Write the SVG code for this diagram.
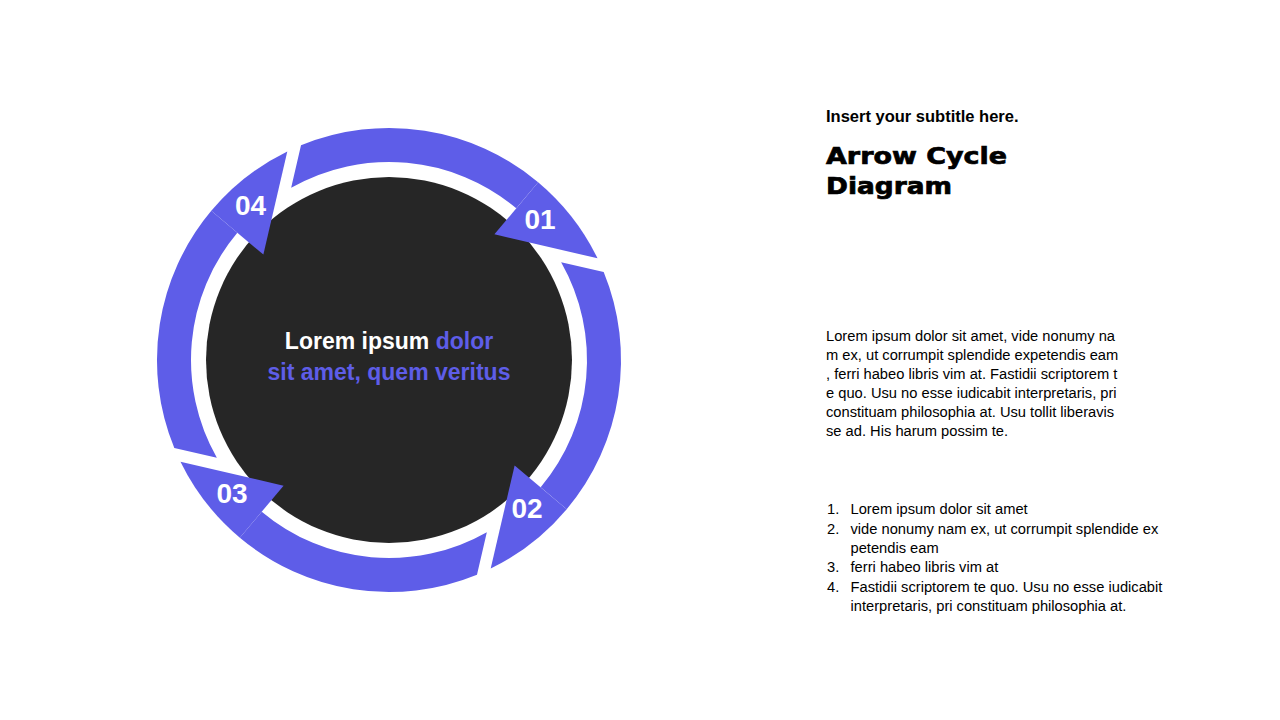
<svg xmlns="http://www.w3.org/2000/svg" xmlns:xlink="http://www.w3.org/1999/xlink" width="1280" height="720" viewBox="0 0 1280 720">
  <style>
    .ring { fill: #5E5DE8; }
    .num { font-family: "Liberation Sans", Arial, sans-serif; font-weight: bold; font-size: 28px; fill: #FFFFFF; text-anchor: middle; }
    .center { font-family: "Liberation Sans", Arial, sans-serif; font-weight: bold; font-size: 23px; text-anchor: middle; }
    .white { fill: #FFFFFF; }
    .purple { fill: #5E5DE8; }
    .sub { font-family: "Liberation Sans", Arial, sans-serif; font-weight: bold; font-size: 16.5px; fill: #000000; }
    .title { font-family: "DejaVu Sans", sans-serif; font-weight: bold; font-size: 23px; fill: #000000; stroke: #000000; stroke-width: 0.7px; }
    .body { font-family: "Liberation Sans", Arial, sans-serif; font-size: 14.7px; fill: #000000; }
  </style>
  <defs>
    <g id="arrowShape">
      <path class="ring" d="M107.9,-205.4 A232,232 0 0 1 232,0 L198,0 A198,198 0 0 0 68.98,-185.6 Z"/>
      <path class="ring" d="M164,0 L232,0 A232,232 0 0 1 211.94,94.36 Z"/>
    </g>
  </defs>
  <rect width="1280" height="720" fill="#FFFFFF"/>

  <g id="center-circle">
    <circle cx="389" cy="360" r="183" fill="#262626"/>
  </g>

  <g id="connectors"></g>

  <g id="step-01">
    <use xlink:href="#arrowShape" href="#arrowShape" transform="translate(389 360) rotate(-50)"/>
    <text class="num" x="540" y="229">01</text>
  </g>
  <g id="step-02">
    <use xlink:href="#arrowShape" href="#arrowShape" transform="translate(389 360) rotate(40)"/>
    <text class="num" x="527" y="518">02</text>
  </g>
  <g id="step-03">
    <use xlink:href="#arrowShape" href="#arrowShape" transform="translate(389 360) rotate(130)"/>
    <text class="num" x="232" y="503">03</text>
  </g>
  <g id="step-04">
    <use xlink:href="#arrowShape" href="#arrowShape" transform="translate(389 360) rotate(220)"/>
    <text class="num" x="250.5" y="215">04</text>
  </g>

  <g id="center-text">
    <text class="center" x="389" y="349"><tspan class="white">Lorem ipsum </tspan><tspan class="purple">dolor</tspan></text>
    <text class="center purple" x="389" y="380">sit amet, quem veritus</text>
  </g>

  <g id="text-panel">
    <text class="sub" x="826" y="122">Insert your subtitle here.</text>
    <text class="title" x="826" y="164" textLength="181" lengthAdjust="spacingAndGlyphs">Arrow Cycle</text>
    <text class="title" x="826" y="194" textLength="126" lengthAdjust="spacingAndGlyphs">Diagram</text>

    <text class="body" x="826" y="341">Lorem  ipsum dolor sit amet, vide nonumy na</text>
    <text class="body" x="826" y="360">m ex, ut corrumpit  splendide expetendis eam</text>
    <text class="body" x="826" y="379">, ferri habeo libris vim at. Fastidii scriptorem t</text>
    <text class="body" x="826" y="398">e quo. Usu no esse iudicabit interpretaris, pri</text>
    <text class="body" x="826" y="417">constituam philosophia at. Usu tollit liberavis</text>
    <text class="body" x="826" y="435.5">se ad. His harum possim te.</text>

    <text class="body" x="827" y="514">1.</text>
    <text class="body" x="850.5" y="514">Lorem ipsum dolor sit amet</text>
    <text class="body" x="827" y="533.5">2.</text>
    <text class="body" x="850.5" y="533.5">vide nonumy nam ex, ut corrumpit splendide ex</text>
    <text class="body" x="850.5" y="552.5">petendis eam</text>
    <text class="body" x="827" y="572">3.</text>
    <text class="body" x="850.5" y="572">ferri habeo libris vim at</text>
    <text class="body" x="827" y="591.5">4.</text>
    <text class="body" x="850.5" y="591.5">Fastidii scriptorem te quo. Usu no esse iudicabit</text>
    <text class="body" x="850.5" y="611">interpretaris, pri constituam philosophia at.</text>
  </g>
</svg>
